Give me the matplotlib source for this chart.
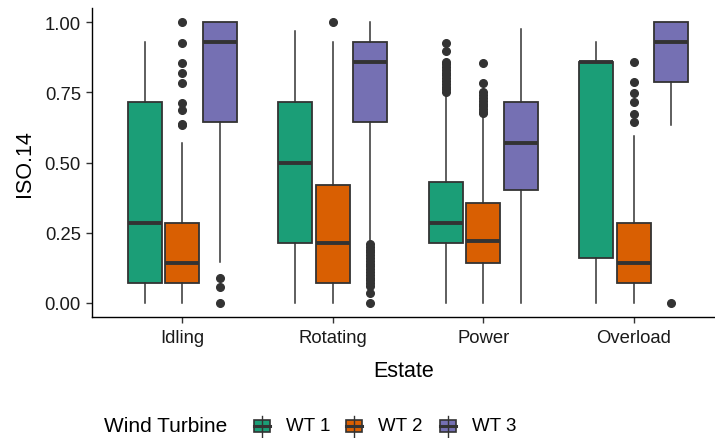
import matplotlib
matplotlib.use('Agg')
import matplotlib.pyplot as plt
from matplotlib.patches import Rectangle
from matplotlib.lines import Line2D

plt.rcParams['font.family'] = ['Liberation Sans', 'DejaVu Sans']

states = ['Idling', 'Rotating', 'Power', 'Overload']
turbines = ['WT 1', 'WT 2', 'WT 3']
colors = ['#1B9E77', '#D95F02', '#7570B3']
yticks = [0.00, 0.25, 0.50, 0.75, 1.00]
ytick_labels = ['0.00', '0.25', '0.50', '0.75', '1.00']

# Box statistics per turbine, one value per state (Idling, Rotating, Power, Overload)
wt1_low = [0.0, 0.0, 0.0, 0.0]
wt1_q1 = [0.071, 0.214, 0.214, 0.160]
wt1_med = [0.286, 0.500, 0.286, 0.857]
wt1_q3 = [0.714, 0.714, 0.429, 0.857]
wt1_high = [0.929, 0.967, 0.740, 0.929]
wt1_out = [[], [],
           [0.925, 0.898, 0.857, 0.850, 0.840, 0.830, 0.820, 0.810, 0.800,
            0.790, 0.780, 0.770, 0.760, 0.750],
           []]

wt2_low = [0.0, 0.0, 0.0, 0.0]
wt2_q1 = [0.071, 0.071, 0.143, 0.071]
wt2_med = [0.143, 0.214, 0.220, 0.143]
wt2_q3 = [0.286, 0.420, 0.357, 0.286]
wt2_high = [0.571, 0.929, 0.667, 0.593]
wt2_out = [[1.0, 0.925, 0.854, 0.819, 0.783, 0.711, 0.687, 0.637, 0.633],
           [1.0],
           [0.855, 0.783, 0.750, 0.740, 0.730, 0.720, 0.710, 0.700, 0.690,
            0.680, 0.675],
           [0.857, 0.786, 0.747, 0.714, 0.673, 0.643]]

wt3_low = [0.145, 0.218, 0.0, 0.635]
wt3_q1 = [0.645, 0.643, 0.403, 0.786]
wt3_med = [0.929, 0.857, 0.571, 0.929]
wt3_q3 = [1.0, 0.929, 0.714, 1.0]
wt3_high = [1.0, 1.0, 0.974, 1.0]
wt3_out = [[0.090, 0.057, 0.0],
           [0.210, 0.200, 0.190, 0.180, 0.170, 0.160, 0.150, 0.140, 0.130,
            0.120, 0.110, 0.100, 0.090, 0.080, 0.070, 0.060, 0.036, 0.0],
           [],
           [0.0]]

series = [
    (wt1_low, wt1_q1, wt1_med, wt1_q3, wt1_high, wt1_out),
    (wt2_low, wt2_q1, wt2_med, wt2_q3, wt2_high, wt2_out),
    (wt3_low, wt3_q1, wt3_med, wt3_q3, wt3_high, wt3_out),
]

W, H = 715, 439
fig = plt.figure(figsize=(W / 100, H / 100), dpi=100)
ax = fig.add_axes([92 / W, (H - 318) / H, (W - 92) / W, (318 - 9) / H])

edge = '#333333'
dodge = 0.25
box_w = 0.225
for t, (lo, q1, med, q3, hi, out) in enumerate(series):
    stats = []
    positions = []
    for i in range(len(states)):
        stats.append(dict(whislo=lo[i], q1=q1[i], med=med[i], q3=q3[i],
                          whishi=hi[i], fliers=out[i]))
        positions.append(i + 1 + (t - 1) * dodge)
    ax.bxp(stats, positions=positions, widths=box_w, patch_artist=True,
           showcaps=False,
           boxprops=dict(facecolor=colors[t], edgecolor=edge, linewidth=1.3),
           medianprops=dict(color=edge, linewidth=2.8, solid_capstyle='butt'),
           whiskerprops=dict(color=edge, linewidth=1.1),
           flierprops=dict(marker='o', markersize=5.5, markerfacecolor=edge,
                           markeredgecolor=edge, linestyle='none'),
           manage_ticks=False)

ax.set_xlim(0.4, 0.4 + (W - 92) / 150.5)
ax.set_ylim(-0.05, 1.05)
ax.set_xticks(range(1, len(states) + 1))
ax.set_xticklabels(states)
ax.set_yticks(yticks)
ax.set_yticklabels(ytick_labels)

for s in ['top', 'right']:
    ax.spines[s].set_visible(False)
for s in ['left', 'bottom']:
    ax.spines[s].set_color('black')
    ax.spines[s].set_linewidth(1.0)
ax.tick_params(axis='both', colors='#333333', length=4, width=1.0,
               labelsize=13.3, labelcolor='#1a1a1a', pad=4)
ax.tick_params(axis='x', pad=5)

ax.set_xlabel('Estate', fontsize=15.5, color='black', labelpad=9.5)
ax.set_ylabel('ISO.14', fontsize=15.5, color='black', labelpad=7)

# Legend (ggplot-style, horizontal at bottom)
def fx(px):
    return px / W

def fy(py):
    return 1 - py / H

leg_y = 427
fig.text(fx(104), fy(leg_y), 'Wind Turbine', fontsize=15, ha='left',
         va='center', color='black')
key_x = [262, 354, 448]
for k, name in enumerate(turbines):
    cx = key_x[k]
    bw, bh = 16, 12
    fig.add_artist(Line2D([fx(cx), fx(cx)], [fy(leg_y - 10.5), fy(leg_y + 10.5)],
                          color=edge, linewidth=1.0))
    fig.add_artist(Rectangle((fx(cx - bw / 2), fy(leg_y + bh / 2)), bw / W, bh / H,
                             facecolor=colors[k], edgecolor=edge, linewidth=1.2))
    fig.add_artist(Line2D([fx(cx - bw / 2), fx(cx + bw / 2)], [fy(leg_y), fy(leg_y)],
                          color=edge, linewidth=2.2))
    fig.text(fx(cx + 24), fy(leg_y), name, fontsize=13.5, ha='left',
             va='center', color='black')

fig.savefig('out.png', dpi=100)
